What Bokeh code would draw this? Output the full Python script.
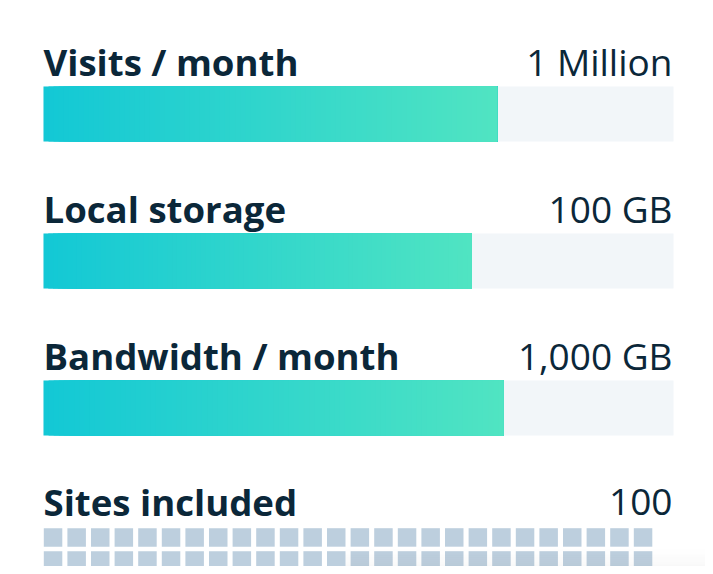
from bokeh.plotting import figure
from bokeh.models import Range1d
from bokeh.embed import file_html
from bokeh.resources import INLINE
from bokeh.core.properties import value

# ---- data ----
labels = ["Visits / month", "Local storage", "Bandwidth / month"]
amounts = ["1 Million", "100 GB", "1,000 GB"]
fill_share = [0.72, 0.68, 0.73]
sites_label = "Sites included"
sites_amount = "100"
sites_count = 100

# ---- style / layout ----
TEXT = "#0B2739"
TRACK = "#F2F6F9"
SQUARE = "#BDCFDE"
C0 = (19, 200, 213)
C1 = (80, 228, 194)
X0, X1 = 43, 673
BAR_TOP0, BAR_STEP, BAR_H = 86, 147, 55
FONT = value("Open Sans")

p = figure(width=705, height=566, x_range=Range1d(0, 705), y_range=Range1d(566, 0),
           output_backend="svg", toolbar_location=None, min_border=0,
           x_axis_location=None, y_axis_location=None)
p.grid.visible = False
p.outline_line_color = None
p.background_fill_color = "white"
p.border_fill_color = "white"

n = len(labels)
tops = [BAR_TOP0 + BAR_STEP * i for i in range(n)]
bottoms = [t + BAR_H for t in tops]
p.quad(left=[X0] * n, right=[X1] * n, top=tops, bottom=bottoms,
       fill_color=TRACK, line_color=None)

# gradient fills: each strip runs to the bar's end, later strips cover earlier ones
N = 90
L, R, T, B, C = [], [], [], [], []
for i in range(n):
    end = X0 + (X1 - X0) * fill_share[i]
    w = (end - X0) / N
    for k in range(N):
        f = k / (N - 1)
        col = "#%02x%02x%02x" % tuple(int(round(C0[j] + (C1[j] - C0[j]) * f)) for j in range(3))
        L.append(X0 + k * w)
        R.append(end)
        T.append(tops[i])
        B.append(bottoms[i])
        C.append(col)
p.quad(left=L, right=R, top=T, bottom=B, fill_color=C, line_color=None)

base = [t - 25 for t in tops] + [BAR_TOP0 + BAR_STEP * n - 26]
p.text(x=[X0] * (n + 1), y=base, text=labels + [sites_label], text_font=FONT,
       text_font_style="bold", text_font_size="36.6px", text_color=TEXT,
       text_baseline="alphabetic", text_align="left")
p.text(x=[X1 - 1] * (n + 1), y=base, text=amounts + [sites_amount], text_font=FONT,
       text_font_style="normal", text_font_size="37px", text_color=TEXT,
       text_baseline="alphabetic", text_align="right")

# site squares
COLS, PX, PY, S = 26, 23.6, 23, 18.5
sq_top0 = BAR_TOP0 + BAR_STEP * n
sl, sr, st, sb = [], [], [], []
for idx in range(sites_count):
    r, c = divmod(idx, COLS)
    sl.append(X0 + 0.3 + c * PX)
    sr.append(X0 + 0.3 + c * PX + S)
    st.append(sq_top0 + 0.7 + r * PY)
    sb.append(sq_top0 + 0.7 + r * PY + S)
p.quad(left=sl, right=sr, top=st, bottom=sb, fill_color=SQUARE, line_color=None)

# bottom overlay (shadow + purple edge of a floating element)
for k in range(12):
    p.quad(left=[345], right=[713], top=[547 + 2 * k], bottom=[549 + 2 * k],
           fill_color="#888888", fill_alpha=0.006 * k, line_color=None)
p.quad(left=[355], right=[713], top=[571], bottom=[575], fill_color="#7A1FA2", line_color=None)

open("out.html", "w").write(file_html(p, INLINE))
